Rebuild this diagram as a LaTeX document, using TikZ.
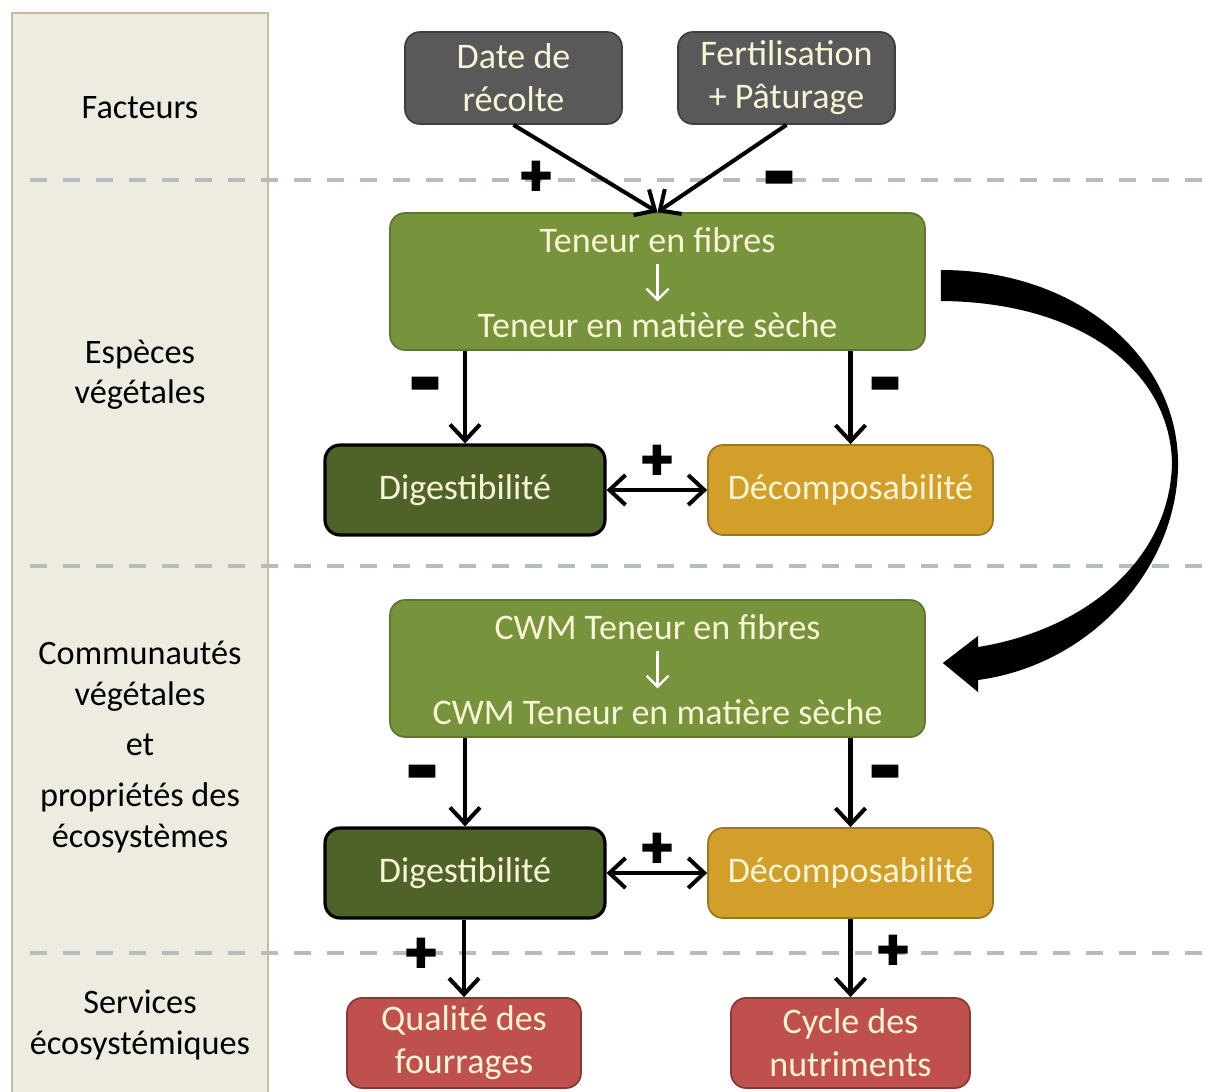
\documentclass[tikz,border=0pt]{standalone}
\usepackage{fontspec}
\setmainfont{Carlito}
\usepackage{graphicx}
\usetikzlibrary{arrows.meta,positioning,calc}
\definecolor{sidefill}{HTML}{EEECE1}
\definecolor{sideline}{HTML}{C4BD97}
\definecolor{sepgrey}{HTML}{B4BCC0}
\definecolor{boxgrey}{HTML}{595959}
\definecolor{fibgreen}{HTML}{77933C}
\definecolor{diggreen}{HTML}{4F6228}
\definecolor{decorange}{HTML}{D29F2B}
\definecolor{servred}{HTML}{C0504D}
\definecolor{boxtext}{HTML}{F8F4D6}
% thicker glyphs: fill + stroke
\newcommand{\thk}[1]{\special{pdf:literal direct 2 Tr 1.5 w}#1\special{pdf:literal direct 0 Tr}}
\newcommand{\pls}{\thk{+}}
\newcommand{\mns}{\scalebox{1.25}[1.8]{\thk{--}}}

\begin{document}
\begin{tikzpicture}[x=0.02cm,y=-0.02cm,
  every node/.style={font=\fontsize{20.5}{24.5}\selectfont},
  bx/.style={rounded corners=0.3cm,minimum height=1.8cm,align=center,
    text=boxtext,line width=1pt,inner sep=2pt},
  fac/.style={bx,fill=boxgrey,draw=boxgrey!70!black,minimum width=4.34cm,minimum height=1.84cm},
  fib/.style={bx,fill=fibgreen,draw=fibgreen!80!black,minimum width=10.7cm,minimum height=2.74cm},
  dig/.style={bx,fill=diggreen,draw=black,line width=1.8pt,minimum width=5.6cm},
  dec/.style={bx,fill=decorange,draw=decorange!75!black,minimum width=5.7cm},
  srv/.style={bx,fill=servred,draw=servred!70!black},
  lbl/.style={align=center,text=black,font=\fontsize{19.5}{23}\selectfont},
  txt/.style={text=boxtext,inner sep=1pt},
  sgn/.style={font=\fontsize{33}{33}\selectfont\bfseries,inner sep=0pt},
  mn/.style={sgn,font=\fontsize{30}{30}\selectfont\bfseries,yshift=-0.25cm},
  lnk/.style={line width=2.3pt,-{Straight Barb[length=3.2mm,width=6mm]}},
  dbl/.style={line width=2.3pt,{Straight Barb[length=3.2mm,width=6mm]}-{Straight Barb[length=3.2mm,width=6mm]}},
  wht/.style={white,line width=1.4pt,shorten <=5pt,shorten >=5pt,-{Straight Barb[length=2.2mm,width=4.4mm]}},
  sep/.style={draw=sepgrey,line width=2.2pt,dash pattern=on 0.34cm off 0.32cm}]
 \useasboundingbox (0,0) rectangle (1209,1091);
 % left column
 \fill[sidefill] (12,13) rectangle (268,1095);
 \draw[sideline,line width=1.2pt] (12,1095) -- (12,13) -- (268,13) -- (268,1095);
 \foreach \y in {180,566,953}
   \draw[sep] (30,\y) -- (1209,\y);
 \node[lbl] (lFac) at (140,108) {Facteurs};
 \node[lbl] (lEsp) at (140,375) {Espèces\\végétales};
 \node[lbl] (lCom) at (140,747) {Communautés\\végétales\\[6pt]et\\[6pt]propriétés des\\écosystèmes};
 \node[lbl] (lSrv) at (140,1025) {Services\\écosystémiques};
 % boxes
 \node[fac] (Date) at (513.5,78) {Date de\\récolte};
 \node[fac] (Fert) at (786.5,78) {Fertilisation\\+ Pâturage};
 \node[fib] (G1) at (657.5,281.5) {};
 \node[txt] (G1a) at (657.5,240) {Teneur en fibres};
 \node[txt] (G1b) at (657.5,325) {Teneur en matière sèche};
 \node[dig] (Dig1) at (465,490) {Digestibilité};
 \node[dec] (Dec1) at (850.5,490) {Décomposabilité};
 \node[fib] (G2) at (657.5,668.5) {};
 \node[txt] (G2a) at (657.5,627) {CWM Teneur en fibres};
 \node[txt] (G2b) at (657.5,712) {CWM Teneur en matière sèche};
 \node[dig] (Dig2) at (465,873) {Digestibilité};
 \node[dec] (Dec2) at (850.5,873) {Décomposabilité};
 \node[srv,minimum width=4.68cm] (Qual) at (464,1043) {Qualité des\\fourrages};
 \node[srv,minimum width=4.78cm] (Cyc) at (850.5,1043) {Cycle des\\nutriments};
 % links
 \draw[wht] (G1a) -- (G1b);
 \draw[wht] (G2a) -- (G2b);
 \draw[lnk] (Date.south) -- (G1.north);
 \draw[lnk] (Fert.south) -- (G1.north);
 \foreach \a/\b in {G1/Dig1,G1/Dec1,G2/Dig2,G2/Dec2,Dig2/Qual,Dec2/Cyc}
   \draw[lnk] (\b.north |- \a.south) -- (\b.north);
 \draw[dbl] (Dig1.east) -- (Dec1.west);
 \draw[dbl] (Dig2.east) -- (Dec2.west);
 % signs
 \node[sgn] (s1) at (536,178) {\pls};
 \node[mn] (s2) at (779,176) {\mns};
 \node[mn] (s3) at (425,382) {\mns};
 \node[mn] (s4) at (885,382) {\mns};
 \node[sgn] (s5) at (657,462) {\pls};
 \node[mn] (s6) at (422,770) {\mns};
 \node[mn] (s7) at (885,770) {\mns};
 \node[sgn] (s8) at (657,850) {\pls};
 \node[sgn] (s9) at (421,955) {\pls};
 \node[sgn] (s10) at (893,952) {\pls};
 % curved arrow
 \fill[black] ($(G1.east)+(15,-11.5)$) .. controls (1080,270) and (1180,360) .. (1178,467)
   .. controls (1176,570) and (1090,665) .. (978,680) -- (978,692)
   -- ($(G2.east)+(17,-5.5)$) -- (978,636) -- (978,647)
   .. controls (1085,630) and (1170,560) .. (1172,463)
   .. controls (1170,370) and (1080,302) .. ($(G1.east)+(15,19.5)$) -- cycle;
\end{tikzpicture}
\end{document}
